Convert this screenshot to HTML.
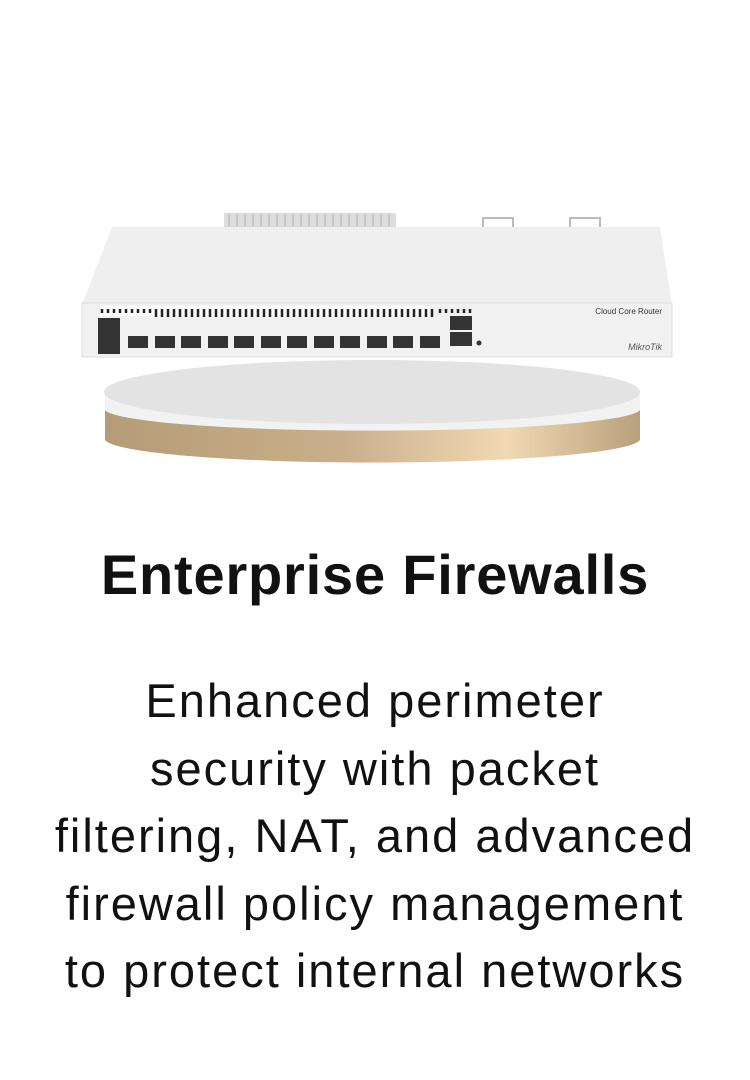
<!DOCTYPE html>
<html><head><meta charset="utf-8"><style>
html,body{margin:0;padding:0;background:#fff;}
body{width:750px;height:1080px;position:relative;overflow:hidden;font-family:"Liberation Sans",sans-serif;}
h1{position:absolute;top:540px;left:0;width:750px;text-align:center;margin:0;font-size:56px;line-height:70px;font-weight:bold;color:#111;letter-spacing:0.8px;}
.p{position:absolute;top:667px;left:0;width:750px;text-align:center;font-size:47px;line-height:67.5px;color:#111;letter-spacing:2px;}
</style></head><body>
<svg width="750" height="520" style="position:absolute;left:0;top:0">
<defs>
<linearGradient id="gold" x1="0" x2="1" y1="0" y2="0">
<stop offset="0" stop-color="#b59c78"/><stop offset="0.45" stop-color="#c9b08a"/><stop offset="0.75" stop-color="#f1d9b4"/><stop offset="1" stop-color="#b8a07c"/></linearGradient>
</defs>
<path d="M105,395 L105,440 A268,24 0 0 0 640,440 L640,395 Z" fill="url(#gold)"/>
<path d="M105,392 L105,410 A268,22 0 0 0 640,410 L640,392 Z" fill="#f2f2f2"/>
<ellipse cx="372" cy="392" rx="268" ry="32" fill="#e3e3e3"/>
<rect x="224" y="213" width="172" height="14" fill="#ddd"/>
<g stroke="#c8c8c8" stroke-width="2">
<path d="M229,214V227M237,214V227M245,214V227M253,214V227M261,214V227M269,214V227M277,214V227M285,214V227M293,214V227M301,214V227M309,214V227M317,214V227M325,214V227M333,214V227M341,214V227M349,214V227M357,214V227M365,214V227M373,214V227M381,214V227M389,214V227"/>
</g>
<path d="M483,228V218h30v10M570,228V218h30v10" fill="none" stroke="#bbb" stroke-width="2"/>
<path d="M112,227 L660,227 L672,305 L82,305 Z" fill="#efefef"/>
<rect x="82" y="303" width="590" height="54" fill="#f1f1f1" stroke="#ddd"/>
<rect x="100" y="306" width="330" height="10" fill="#fff"/>
<g stroke="#222" stroke-width="2.5">
<path d="M102,309v4M108,309v4M114,309v4M120,309v4M126,309v4M132,309v4M138,309v4M144,309v4M150,309v4"/>
<path d="M156,309v8M162,309v8M168,309v8M174,309v8M180,309v8M186,309v8M192,309v8M198,309v8M204,309v8M210,309v8M216,309v8M222,309v8M228,309v8M234,309v8M240,309v8M246,309v8M252,309v8M258,309v8M264,309v8M270,309v8M276,309v8M282,309v8M288,309v8M294,309v8M300,309v8M306,309v8M312,309v8M318,309v8M324,309v8M330,309v8M336,309v8M342,309v8M348,309v8M354,309v8M360,309v8M366,309v8M372,309v8M378,309v8M384,309v8M390,309v8M396,309v8M402,309v8M408,309v8M414,309v8M420,309v8M426,309v8M432,309v8"/>
<path d="M440,309v4M446,309v4M452,309v4M458,309v4M464,309v4M470,309v4"/>
</g>
<rect x="98" y="318" width="22" height="36" fill="#333"/>
<g fill="#333">
<rect x="128" y="336" width="20" height="12"/><rect x="155" y="336" width="20" height="12"/><rect x="181" y="336" width="20" height="12"/><rect x="208" y="336" width="20" height="12"/><rect x="234" y="336" width="20" height="12"/><rect x="261" y="336" width="20" height="12"/><rect x="287" y="336" width="20" height="12"/><rect x="314" y="336" width="20" height="12"/><rect x="340" y="336" width="20" height="12"/><rect x="367" y="336" width="20" height="12"/><rect x="393" y="336" width="20" height="12"/><rect x="420" y="336" width="20" height="12"/>
<rect x="450" y="316" width="22" height="14"/><rect x="450" y="332" width="22" height="14"/>
<circle cx="479" cy="343" r="2.5"/>
</g>
<text x="662" y="314" font-size="8" text-anchor="end" fill="#333">Cloud Core Router</text>
<text x="662" y="350" font-size="9" text-anchor="end" fill="#555" font-style="italic">MikroTik</text>
</svg>
<h1>Enterprise Firewalls</h1>
<div class="p">Enhanced perimeter<br>security with packet<br>filtering, NAT, and advanced<br>firewall policy management<br>to protect internal networks</div>
</body></html>
